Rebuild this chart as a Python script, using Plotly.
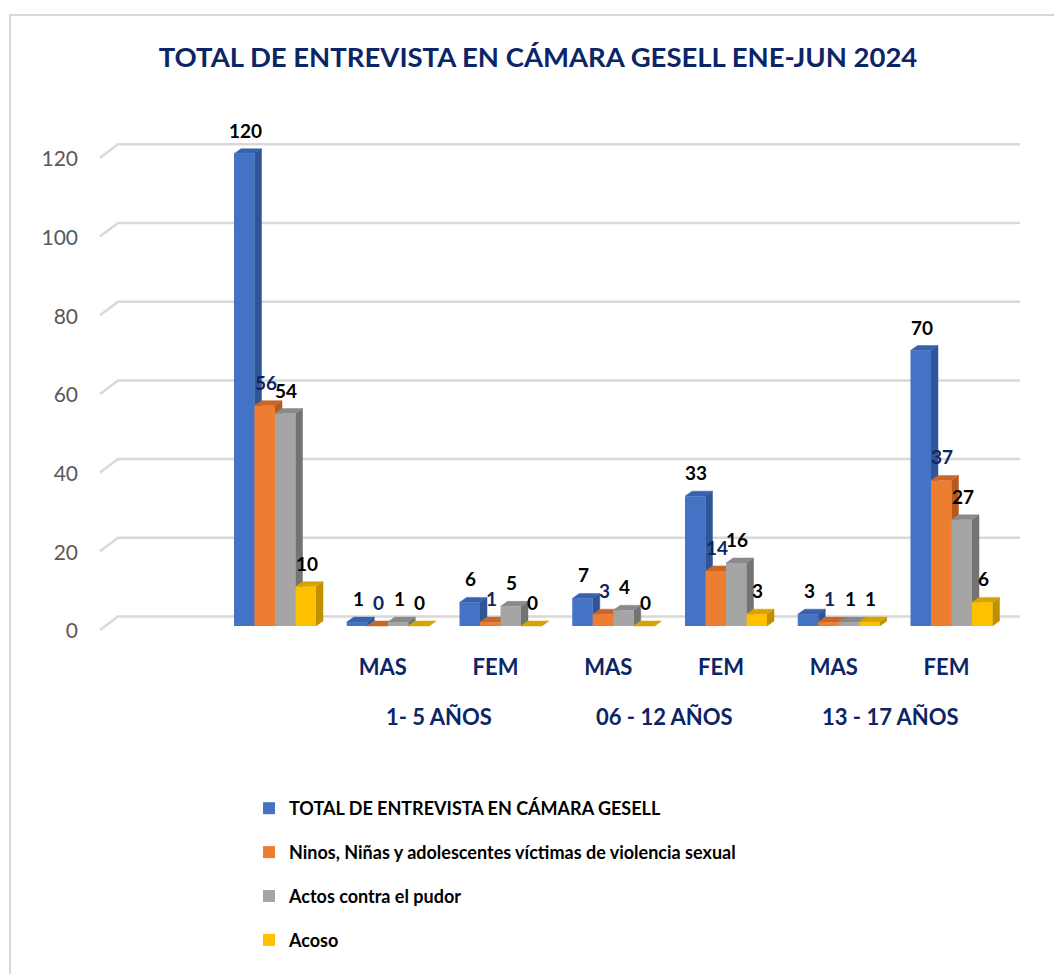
import plotly.graph_objects as go

# ---- data -------------------------------------------------------------
categories = ["", "MAS", "FEM", "MAS", "FEM", "MAS", "FEM"]
age_groups = ["1- 5 AÑOS", "06 - 12 AÑOS", "13 - 17 AÑOS"]
series_names = [
    "TOTAL DE ENTREVISTA EN CÁMARA GESELL",
    "Ninos, Niñas y adolescentes víctimas de violencia sexual",
    "Actos contra el pudor",
    "Acoso",
]
total_entrevistas = [120, 1, 6, 7, 33, 3, 70]
victimas_violencia = [56, 0, 1, 3, 14, 1, 37]
actos_pudor = [54, 1, 5, 4, 16, 1, 27]
acoso = [10, 0, 0, 0, 3, 1, 6]
y_ticks = [0, 20, 40, 60, 80, 100, 120]

series_values = [total_entrevistas, victimas_violencia, actos_pudor, acoso]

# ---- styling ----------------------------------------------------------
front_colors = ["#4472c4", "#ed7d31", "#a5a5a5", "#ffc000"]
side_colors = ["#2f5597", "#b25a1f", "#737373", "#bf9000"]
top_colors = ["#3762ad", "#c9672a", "#8a8a8a", "#d9a300"]
label_colors = ["#000000", "#0b2566", "#000000", "#000000"]
NAVY = "#0b2566"
FONT = "Lato"

W, H = 1054, 974
SLOT_PX = 112.75          # pixels per category
X_FIRST = 275             # pixel centre of the first category
Y_ZERO = 626              # pixel row of the value 0 on the bar plane
PX_PER_UNIT = 3.935       # pixels per value unit
M_L, M_R, M_T, M_B = 95, 26, 90, 334
PLOT_BOTTOM = H - M_B
PLOT_W = W - M_L - M_R
PLOT_H = H - M_T - M_B


def px_to_x(px):
    return (px - X_FIRST) / SLOT_PX


def px_to_y(px):
    return (Y_ZERO - px) / PX_PER_UNIT


x_range = [px_to_x(M_L), px_to_x(W - M_R)]
y_range = [px_to_y(PLOT_BOTTOM), px_to_y(M_T)]

n_series = len(series_values)
bar_w = 20.5 / SLOT_PX
bargap = 1 - n_series * bar_w
depth_x = 7 / SLOT_PX
depth_y = 5 / PX_PER_UNIT

fig = go.Figure()

# ---- back wall gridlines with a perspective tail ----------------------
back_shift = 9.5 / PX_PER_UNIT
front_shift = 4 / PX_PER_UNIT
gx, gy = [], []
for v in y_ticks:
    gx += [px_to_x(100), px_to_x(118), px_to_x(1020), None]
    gy += [v - front_shift, v + back_shift, v + back_shift, None]
fig.add_trace(go.Scatter(
    x=gx, y=gy, mode="lines", line=dict(color="#d9d9d9", width=2.5),
    hoverinfo="skip", showlegend=False, xaxis="x", yaxis="y"))

# ---- side and top faces of each bar (depth effect) --------------------
for i, vals in enumerate(series_values):
    sx, sy, tx, ty = [], [], [], []
    for k, v in enumerate(vals):
        c = k + (i - (n_series - 1) / 2) * bar_w
        xl, xr = c - bar_w / 2, c + bar_w / 2
        sx += [xr, xr + depth_x, xr + depth_x, xr, xr, None]
        sy += [0, depth_y, v + depth_y, v, 0, None]
        tx += [xl, xl + depth_x, xr + depth_x, xr, xl, None]
        ty += [v, v + depth_y, v + depth_y, v, v, None]
    fig.add_trace(go.Scatter(
        x=sx, y=sy, mode="lines", fill="toself", fillcolor=side_colors[i],
        line=dict(color=side_colors[i], width=0.5), hoverinfo="skip",
        showlegend=False, xaxis="x", yaxis="y"))
    fig.add_trace(go.Scatter(
        x=tx, y=ty, mode="lines", fill="toself", fillcolor=top_colors[i],
        line=dict(color=top_colors[i], width=0.5), hoverinfo="skip",
        showlegend=False, xaxis="x", yaxis="y"))

# ---- bar fronts ---------------------------------------------------------
for i, (name, vals) in enumerate(zip(series_names, series_values)):
    fig.add_trace(go.Bar(
        x=list(range(len(categories))), y=vals, name=name,
        marker=dict(color=front_colors[i], line=dict(width=0)),
        legendgroup=f"g{i}", xaxis="x2", yaxis="y2"))

# ---- value labels above each bar -----------------------------------------
annotations = []
for i, vals in enumerate(series_values):
    for k, v in enumerate(vals):
        c = k + (i - (n_series - 1) / 2) * bar_w
        annotations.append(dict(
            text=str(v), x=c, y=v, xref="x2", yref="y2", showarrow=False,
            xanchor="center", yanchor="bottom", yshift=10, xshift=1,
            font=dict(family=FONT, size=19, color=label_colors[i], weight="bold")))

# ---- age group labels --------------------------------------------------
for j, grp in enumerate(age_groups):
    annotations.append(dict(
        text=grp, x=1.5 + 2 * j, xref="x", y=(PLOT_BOTTOM - 716) / PLOT_H,
        yref="paper", showarrow=False, xanchor="center", yanchor="middle",
        xshift=-5,
        font=dict(family=FONT, size=22, color=NAVY, weight="bold")))

fig.update_layout(
    width=W, height=H,
    margin=dict(l=M_L, r=M_R, t=M_T, b=M_B),
    paper_bgcolor="white", plot_bgcolor="rgba(0,0,0,0)",
    barmode="group", bargap=bargap, bargroupgap=0,
    title=dict(
        text="TOTAL DE ENTREVISTA EN CÁMARA GESELL ENE-JUN 2024",
        x=538 / W, y=1 - 57 / H, xref="container", yref="container",
        xanchor="center", yanchor="middle",
        font=dict(family=FONT, size=27.5, color=NAVY, weight="bold")),
    xaxis=dict(
        range=x_range, tickmode="array", tickvals=list(range(len(categories))),
        ticktext=categories, showgrid=False, zeroline=False, showline=False,
        ticks="", ticklabelstandoff=12, ticklabelshift=-5,
        tickfont=dict(family=FONT, size=22, color=NAVY, weight="bold")),
    yaxis=dict(
        range=y_range, tickmode="array", tickvals=y_ticks, showgrid=False,
        zeroline=False, showline=False, ticks="", ticklabelstandoff=16,
        ticklabelshift=5,
        tickfont=dict(family=FONT, size=21, color="#595959")),
    xaxis2=dict(range=x_range, overlaying="x", visible=False),
    yaxis2=dict(range=y_range, overlaying="y", visible=False),
    legend=dict(
        orientation="v", x=(249 - M_L) / PLOT_W, y=(PLOT_BOTTOM - 790) / PLOT_H,
        xanchor="left", yanchor="top", traceorder="grouped", tracegroupgap=17.5,
        font=dict(family=FONT, size=18, color="#000000", weight="bold"),
        bgcolor="rgba(0,0,0,0)"),
    annotations=annotations,
    shapes=[dict(
        type="rect", xref="paper", yref="paper",
        x0=(10 - M_L) / PLOT_W, x1=(1070 - M_L) / PLOT_W,
        y0=(PLOT_BOTTOM - 990) / PLOT_H, y1=(PLOT_BOTTOM - 15) / PLOT_H,
        line=dict(color="#d9d9d9", width=2), layer="below")],
)

fig.write_html("out.html")
